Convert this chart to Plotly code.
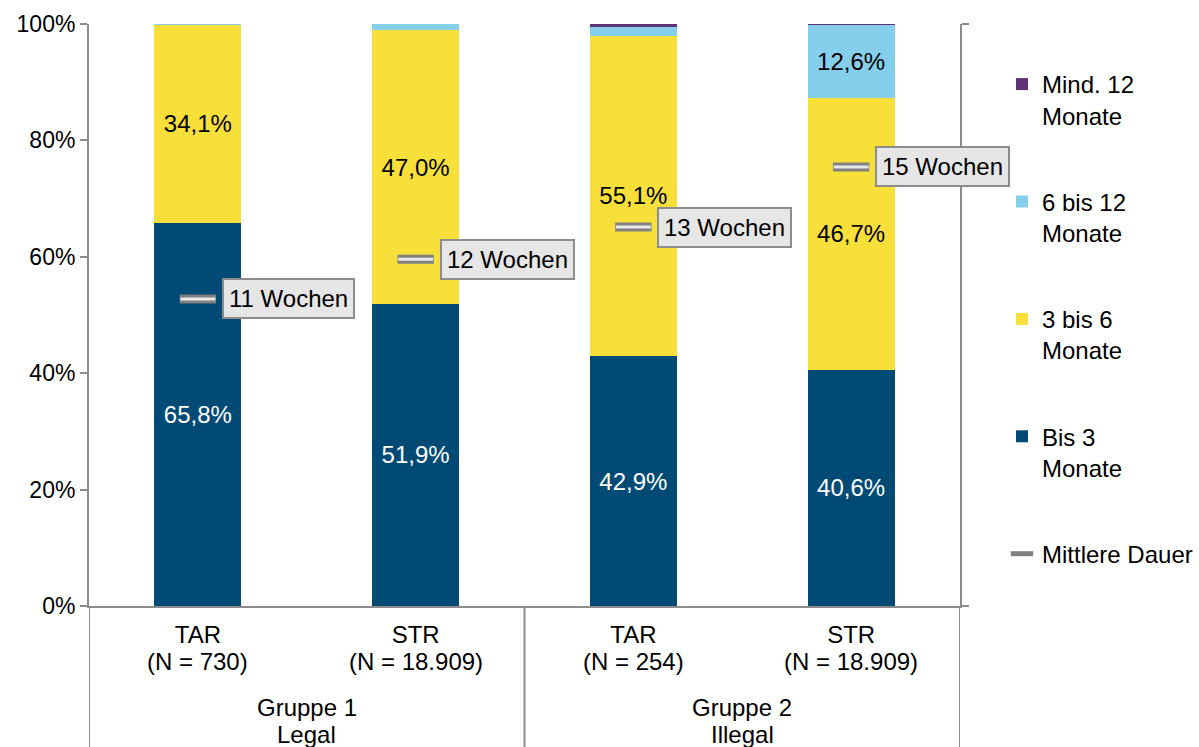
import plotly.graph_objects as go

cat_labels = ["TAR<br>(N = 730)", "STR<br>(N = 18.909)", "TAR<br>(N = 254)", "STR<br>(N = 18.909)"]
group_labels = ["Gruppe 1<br>Legal", "Gruppe 2<br>Illegal"]
group_of_cat = [0, 0, 1, 1]

bis3 = [65.8, 51.9, 42.9, 40.6]
m3bis6 = [34.1, 47.0, 55.1, 46.7]
m6bis12 = [0.1, 1.1, 1.5, 12.6]
mind12 = [0.0, 0.0, 0.5, 0.1]

median_weeks = [10.55, 11.92, 13.02, 15.09]
median_labels = ["11 Wochen", "12 Wochen", "13 Wochen", "15 Wochen"]

FONT = "Liberation Sans, Arial, sans-serif"
GREY = "#8C8C8C"
W, H = 1199, 747
PL, PR, PT, PB = 89, 960, 24, 606   # plot area in pixels
MR = 0
xpos = list(range(len(cat_labels)))

def fmt(vals, minv=5):
    return [("%.1f%%" % v).replace(".", ",") if v >= minv else "" for v in vals]

def ypaper(py):
    return (PB - py) / (PB - PT)

def xpaper(px):
    return (px - PL) / (W - MR - PL)

series = [
    ("Bis 3<br>Monate", bis3, "#004A76", "white", 4),
    ("3 bis 6<br>Monate", m3bis6, "#F8DF3A", "black", 3),
    ("6 bis 12<br>Monate", m6bis12, "#86CFEC", "black", 2),
    ("Mind. 12<br>Monate", mind12, "#5E3278", "black", 1),
]

fig = go.Figure()
for name, vals, col, tcol, rank in series:
    fig.add_trace(go.Bar(
        x=xpos, y=vals, name=name, marker=dict(color=col, line=dict(width=0)),
        text=fmt(vals), textposition="inside", insidetextanchor="middle",
        textangle=0, textfont=dict(color=tcol, size=24, family=FONT),
        legendrank=rank, legendgroup=name, hoverinfo="skip",
    ))

fig.add_trace(go.Scatter(
    x=xpos, y=median_weeks, yaxis="y2", mode="markers", name="Mittlere Dauer",
    marker=dict(symbol="line-ew", size=26, color="#808080",
                line=dict(width=9, color="#808080")),
    legendrank=5, legendgroup="md", hoverinfo="skip",
))
fig.add_trace(go.Scatter(
    x=xpos, y=median_weeks, yaxis="y2", mode="markers", showlegend=False,
    marker=dict(symbol="line-ew", size=25, color="#E8E8E8",
                line=dict(width=3, color="#E8E8E8")),
    hoverinfo="skip",
))

for i, (w, lab) in enumerate(zip(median_weeks, median_labels)):
    fig.add_annotation(
        x=xpos[i], y=w, xref="x", yref="y2", text=lab, showarrow=False,
        xanchor="left", yanchor="middle", xshift=24,
        font=dict(size=24, color="black", family=FONT),
        bgcolor="#E6E6E6", bordercolor=GREY, borderwidth=2, borderpad=5,
    )

# second line of the category labels
for i, lab in enumerate(cat_labels):
    line2 = lab.split("<br>")[1]
    fig.add_annotation(
        x=xpos[i], y=ypaper(661), xref="x", yref="paper", text=line2,
        showarrow=False, xanchor="center", yanchor="middle",
        font=dict(size=24, color="black", family=FONT),
    )

# group labels (centered under their categories), one annotation per line
for g, glab in enumerate(group_labels):
    members = [xpos[i] for i in range(len(xpos)) if group_of_cat[i] == g]
    xc = sum(members) / len(members)
    for line, py in zip(glab.split("<br>"), [707, 734]):
        fig.add_annotation(
            x=xc, y=ypaper(py), xref="x", yref="paper",
            text=line, showarrow=False, xanchor="center", yanchor="middle",
            font=dict(size=24, color="black", family=FONT),
        )

# group dividers
bounds = [xpos[0] - 0.5] + [xpos[i] + 0.5 for i in range(len(xpos) - 1)
                            if group_of_cat[i] != group_of_cat[i + 1]] + [xpos[-1] + 0.5]
for b in bounds:
    fig.add_shape(type="line", x0=b, x1=b, y0=0, y1=-0.3, xref="x", yref="paper",
                  line=dict(color=GREY, width=2), layer="above")

fig.update_layout(
    width=W, height=H,
    margin=dict(l=PL, r=MR, t=PT, b=H - PB, autoexpand=False),
    plot_bgcolor="white", paper_bgcolor="white",
    barmode="stack", bargap=0.6,
    font=dict(family=FONT, size=24, color="black"),
    showlegend=True,
    legend=dict(x=xpaper(1002), y=ypaper(62), xanchor="left", yanchor="top",
                traceorder="grouped", tracegroupgap=52, valign="top",
                font=dict(size=24, family=FONT), itemwidth=30),
    yaxis=dict(range=[0, 100], tickvals=[0, 20, 40, 60, 80, 100],
               ticktext=["0%", "20%", "40%", "60%", "80%", "100%"],
               showgrid=False, zeroline=False, showline=True,
               linecolor=GREY, linewidth=2, ticks="outside",
               ticklen=7, tickwidth=2, tickcolor=GREY,
               tickfont=dict(size=23, family=FONT)),
    yaxis2=dict(range=[0, 20], overlaying="y", side="right", anchor="x",
                showticklabels=False, showgrid=False, zeroline=False,
                showline=True, linecolor=GREY, linewidth=2,
                ticks="outside", ticklen=7, tickwidth=2, tickcolor=GREY,
                tickvals=[0, 20]),
    xaxis=dict(range=[-0.5, 3.5], tickvals=xpos,
               ticktext=[c.split("<br>")[0] for c in cat_labels],
               domain=[0, (PR - PL) / (W - MR - PL)],
               showline=True, linecolor=GREY, linewidth=2, showgrid=False,
               zeroline=False, ticks="", ticklabelstandoff=6,
               tickfont=dict(size=24, family=FONT)),
)

fig.write_html("out.html")
